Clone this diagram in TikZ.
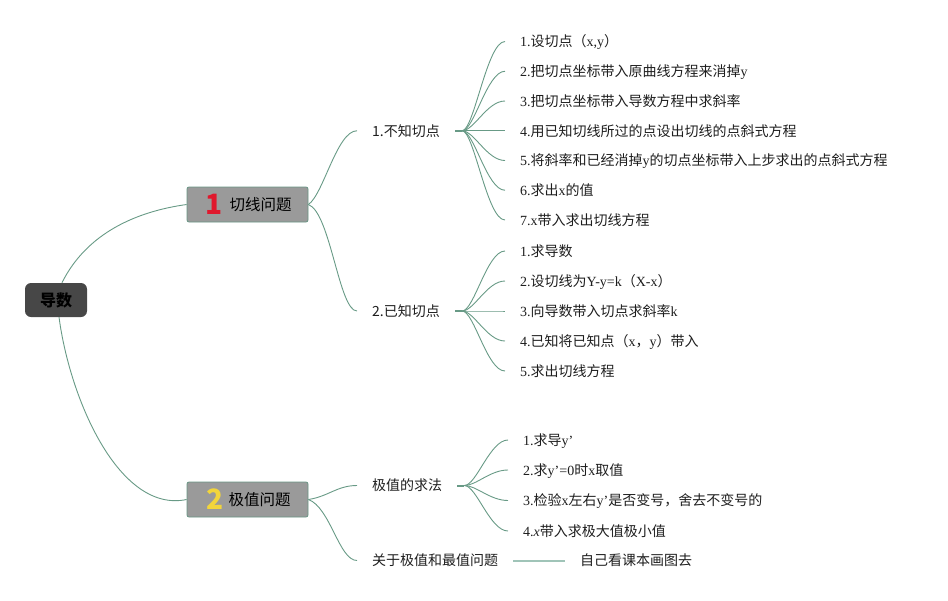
\documentclass[tikz,border=0pt]{standalone}
\usepackage{fontspec}
\setmainfont{Noto Sans CJK SC}
\newfontfamily\latf{Liberation Serif}
\newcommand\lat[1]{{\latf #1}}
\usetikzlibrary{calc}
\definecolor{connc}{RGB}{104,154,134}
\definecolor{lightc}{RGB}{160,196,184}
\definecolor{rootc}{RGB}{71,71,71}
\definecolor{topicc}{RGB}{154,154,154}
\definecolor{topicb}{RGB}{104,150,132}
\definecolor{numred}{RGB}{224,24,45}
\definecolor{numyel}{RGB}{242,213,60}
\definecolor{txtc}{RGB}{30,30,30}
\begin{document}
\begin{tikzpicture}[x=1pt,y=-1pt,
  rootbox/.style={fill=rootc, rounded corners=6pt, minimum width=62pt, minimum height=34pt,
     inner sep=0pt, font=\fontsize{16}{16}\selectfont\bfseries, text=black},
  topicbox/.style={fill=topicc, draw=topicb, line width=0.8pt, rounded corners=2pt,
     minimum width=121pt, minimum height=35pt, inner sep=0pt,
     font=\fontsize{15.5}{16}\selectfont, text=black},
  sub/.style={anchor=west, inner xsep=15pt, inner ysep=0pt, text height=12pt, text depth=1.5pt,
     font=\fontsize{14}{14}\selectfont, text=txtc},
  link/.style={draw=connc, line width=0.9pt},
  stub/.style={draw=connc, line width=2pt},
  flat/.style={draw=lightc, line width=2pt}
]
\useasboundingbox (0,0) rectangle (948,600);

% root and topics
\node[rootbox] (root) at (56,300) {导数};
\node[topicbox] (t1) at (247.5,204.5) {\hspace{2pt}\raisebox{-4pt}{\fontsize{28}{28}\selectfont\bfseries\color{numred}1}\hspace{7pt}切线问题};
\node[topicbox] (t2) at (247.5,499.5) {\hspace{2pt}\raisebox{-4pt}{\fontsize{28}{28}\selectfont\bfseries\color{numyel}2}\hspace{5pt}极值问题};

\draw[link] (root.71) .. controls +(25,-50) and +(-50,7) .. (t1.west);
\draw[link] (root.-80) .. controls +(11,83) and +(-67,14) .. (t2.west);

% level 1
\node[sub] (n1) at (357,130.75) {1.不知切点};
\node[sub] (n2) at (357,311) {2.已知切点};
\node[sub] (n3) at (357,485.5) {极值的求法};
\node[sub] (n4) at (357,560.5) {关于极值和最值问题};
\node[sub] (n5) at (565,560.5) {自己看课本画图去};

\draw[link] (t1.east) .. controls +(15,-10) and +(-20,0) .. (n1.west);
\draw[link] (t1.east) .. controls +(22,8) and +(-18,0) .. (n2.west);
\draw[link] (t2.east) .. controls +(20,-3) and +(-20,0) .. (n3.west);
\draw[link] (t2.east) .. controls +(22,8) and +(-18,0) .. (n4.west);
\draw[flat] (n4.east) -- (n5.west);

\coordinate (j1) at ($(n1.east)+(7,0)$);
\coordinate (j2) at ($(n2.east)+(7,0)$);
\coordinate (j3) at ($(n3.east)+(7,0)$);
\draw[stub] (n1.east) -- (j1);
\draw[stub] (n2.east) -- (j2);
\draw[stub] (n3.east) -- (j3);

% branch 1 children
\node[sub] (c11) at (505,41.5) {\lat{1.}设切点（\lat{x,y}）};
\node[sub] (c12) at (505,71.25) {\lat{2.}把切点坐标带入原曲线方程来消掉\lat{y}};
\node[sub] (c13) at (505,101) {\lat{3.}把切点坐标带入导数方程中求斜率};
\node[sub] (c14) at (505,130.75) {\lat{4.}用已知切线所过的点设出切线的点斜式方程};
\node[sub] (c15) at (505,160.5) {\lat{5.}将斜率和已经消掉\lat{y}的切点坐标带入上步求出的点斜式方程};
\node[sub] (c16) at (505,190.25) {\lat{6.}求出\lat{x}的值};
\node[sub] (c17) at (505,220) {\lat{7.x}带入求出切线方程};
\foreach \c in {c11,c12,c13,c14,c15,c16,c17}
  \draw[link] (j1) .. controls +(12,0) and +(-18,0) .. (\c.west);

% branch 2 children
\node[sub] (c21) at (505,251) {\lat{1.}求导数};
\node[sub] (c22) at (505,281) {\lat{2.}设切线为\lat{Y-y=k}（\lat{X-x}）};
\node[sub] (c23) at (505,311) {\lat{3.}向导数带入切点求斜率\lat{k}};
\node[sub] (c24) at (505,341) {\lat{4.}已知将已知点（\lat{x}，\lat{y}）带入};
\node[sub] (c25) at (505,371) {\lat{5.}求出切线方程};
\foreach \c in {c21,c22,c23,c24,c25}
  \draw[link] (j2) .. controls +(12,0) and +(-18,0) .. (\c.west);

% branch 3 children
\node[sub] (c31) at (508,440) {\lat{1.}求导\lat{y’}};
\node[sub] (c32) at (508,470) {\lat{2.}求\lat{y’=0}时\lat{x}取值};
\node[sub] (c33) at (508,500.5) {\lat{3.}检验\lat{x}左右\lat{y’}是否变号，舍去不变号的};
\node[sub] (c34) at (508,531) {\lat{4.\textit{x}}带入求极大值极小值};
\foreach \c in {c31,c32,c33,c34}
  \draw[link] (j3) .. controls +(12,0) and +(-18,0) .. (\c.west);
\end{tikzpicture}
\end{document}
